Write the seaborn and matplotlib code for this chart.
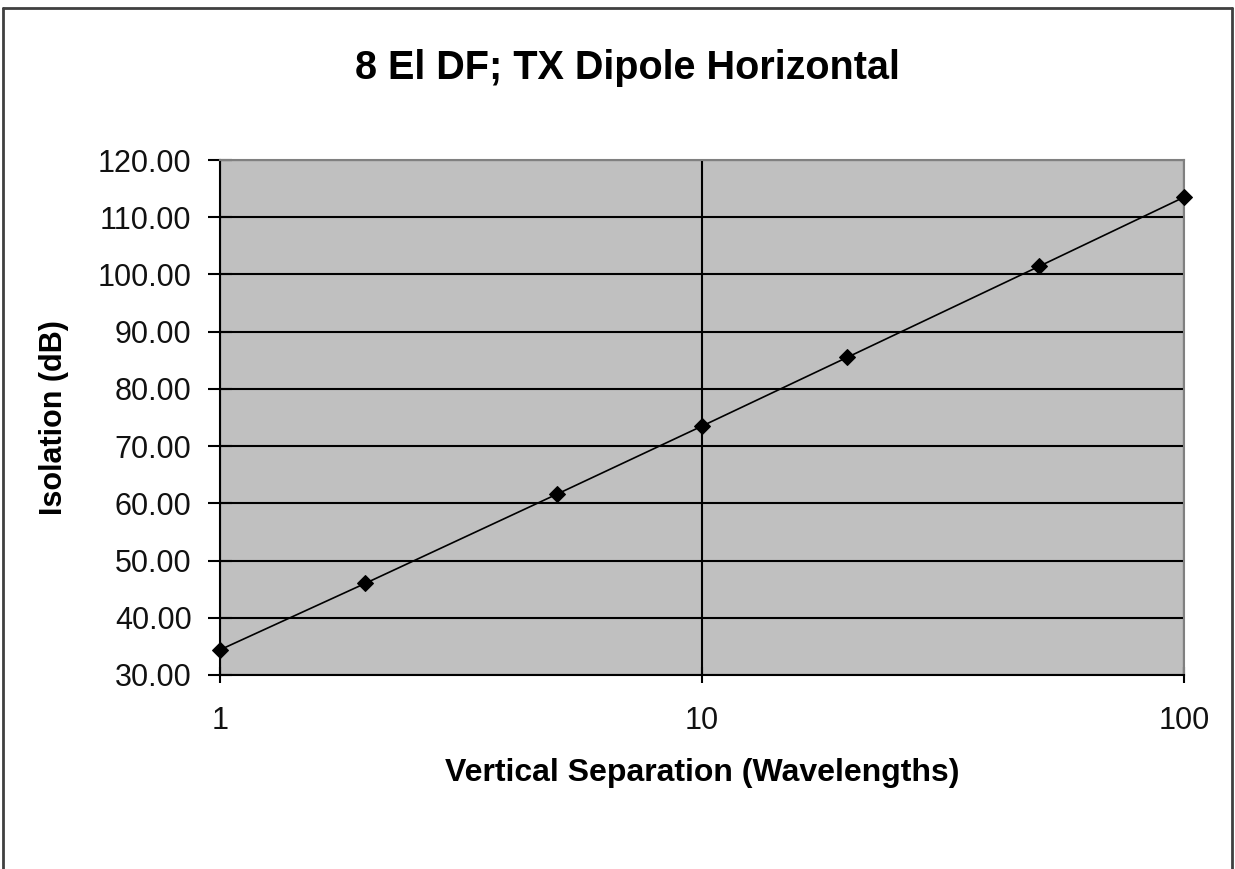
import pandas as pd
import matplotlib.pyplot as plt
import matplotlib.ticker as mticker
import seaborn as sns

# Data
separation = [1, 2, 5, 10, 20, 50, 100]
isolation = [34.4, 46.0, 61.6, 73.5, 85.5, 101.4, 113.5]
x_ticks = [1, 10, 100]
y_ticks = [30, 40, 50, 60, 70, 80, 90, 100, 110, 120]

df = pd.DataFrame({"sep": separation, "iso": isolation})

sns.set_style("white")
plt.rcParams["font.family"] = ["Liberation Sans", "DejaVu Sans"]

fig = plt.figure(figsize=(12.35, 8.69), dpi=100)
ax = fig.add_axes([220 / 1235, 1 - 675 / 869, (1184 - 220) / 1235, (675 - 160) / 869])
ax.set_facecolor("#C0C0C0")

# Outer chart frame (no bottom edge visible)
frame = dict(color="#404040", lw=2, transform=fig.transFigure)
fig.add_artist(plt.Line2D([3 / 1235, 3 / 1235], [0, 1 - 8 / 869], **frame))
fig.add_artist(plt.Line2D([1232 / 1235, 1232 / 1235], [0, 1 - 8 / 869], **frame))
fig.add_artist(plt.Line2D([3 / 1235, 1232 / 1235], [1 - 8 / 869, 1 - 8 / 869], **frame))

sns.lineplot(data=df, x="sep", y="iso", ax=ax, color="black", linewidth=1.2,
             marker="D", markersize=8, markeredgecolor="black", zorder=3, clip_on=False)

ax.set_xscale("log")
ax.set_xlim(1, 100)
ax.set_ylim(30, 120)
ax.set_xticks(x_ticks)
ax.xaxis.set_major_formatter(mticker.FuncFormatter(lambda v, p: f"{v:g}"))
ax.xaxis.set_minor_locator(mticker.NullLocator())
ax.set_yticks(y_ticks)
ax.yaxis.set_major_formatter(mticker.FuncFormatter(lambda v, p: f"{v:.2f}"))

ax.grid(True, which="major", color="black", linewidth=1.5)
ax.set_axisbelow(True)

for side in ["top", "right"]:
    ax.spines[side].set_color("#808080")
    ax.spines[side].set_linewidth(1.5)
for side in ["left", "bottom"]:
    ax.spines[side].set_color("black")
    ax.spines[side].set_linewidth(1.5)

ax.tick_params(axis="both", which="major", bottom=True, left=True, direction="inout",
               width=1.5, labelsize=22, colors="black", labelcolor="#111111")
ax.tick_params(axis="y", length=17, pad=12)
ax.tick_params(axis="x", length=12, pad=16)

ax.set_xlabel("Vertical Separation (Wavelengths)", fontsize=23, fontweight="bold",
              color="black", va="center")
ax.set_ylabel("Isolation (dB)", fontsize=22, fontweight="bold", color="black", va="center")
ax.xaxis.set_label_coords(0.5, (675 - 773) / 515)
ax.yaxis.set_label_coords((54 - 220) / 964, 0.5)

fig.text(627 / 1235, 1 - 68 / 869, "8 El DF; TX Dipole Horizontal", fontsize=28.5,
         fontweight="bold", color="black", ha="center", va="center")

fig.savefig("out.png", dpi=100)
